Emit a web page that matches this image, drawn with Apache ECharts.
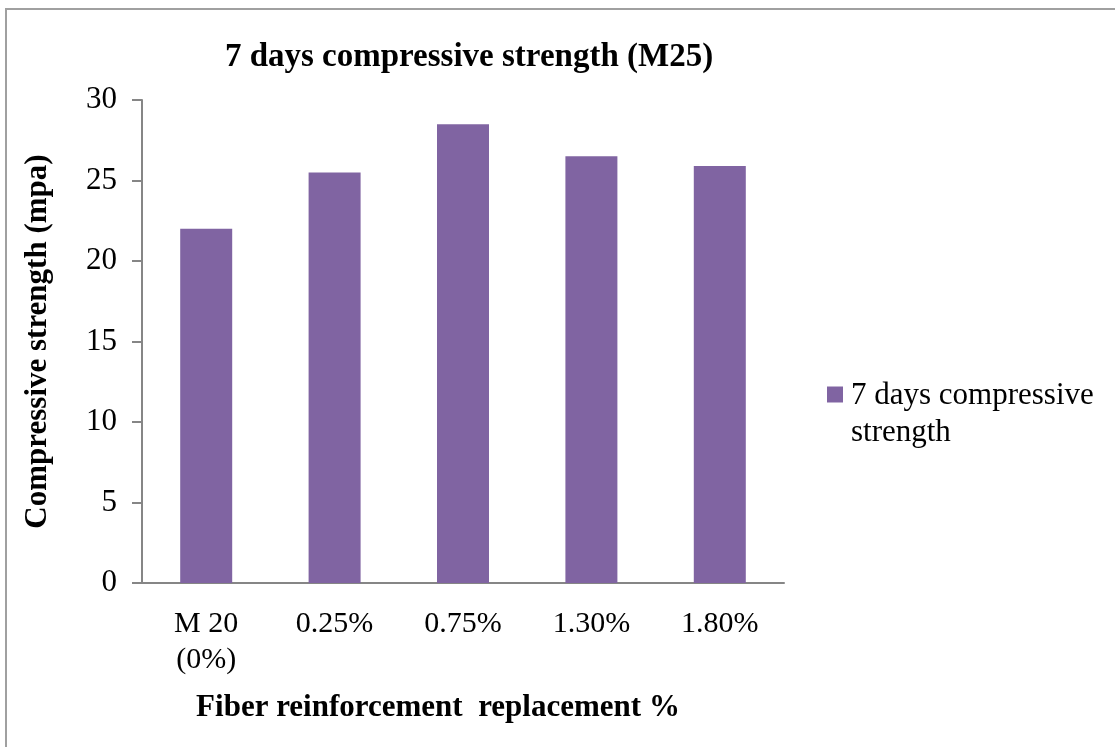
<!DOCTYPE html>
<html>
<head>
<meta charset="utf-8">
<script src="https://cdn.jsdelivr.net/npm/echarts@6/dist/echarts.min.js"></script>
<style>
  html, body { margin: 0; padding: 0; background: #fff; }
  #chart { width: 1115px; height: 747px; }
</style>
</head>
<body>
<div id="chart"></div>
<script>
const categories = ['M 20 (0%)', '0.25%', '0.75%', '1.30%', '1.80%'];
const strengthValues = [22, 25.5, 28.5, 26.5, 25.9];
const seriesName = '7 days compressive strength';

const fontFamily = '"Liberation Serif", "Times New Roman", serif';
const barColor = '#8064A2';
const axisColor = '#868686';

const chart = echarts.init(document.getElementById('chart'));

const option = {
    backgroundColor: '#fff',
    animation: false,
    title: {
        text: '7 days compressive strength (M25)',
        left: 464,
        top: 36,
        textAlign: 'center',
        textStyle: { fontFamily: fontFamily, fontSize: 33, fontWeight: 'bold', color: '#000' }
    },
    legend: {
        data: [seriesName],
        orient: 'vertical',
        left: 827,
        top: 342,
        padding: 0,
        itemWidth: 16,
        itemHeight: 16,
        icon: 'rect',
        // blank first line keeps the marker level with the first text line
        formatter: () => '{s| }\n{a|7 days compressive}\n{a|strength}',
        textStyle: {
            fontFamily: fontFamily,
            fontSize: 31,
            color: '#000',
            rich: {
                s: { fontSize: 31, lineHeight: 37, fontFamily: fontFamily },
                a: { fontSize: 31, lineHeight: 37, fontFamily: fontFamily, color: '#000', padding: [3, 0, 0, 3] }
            }
        }
    },
    grid: { left: 142, right: 331, top: 100, bottom: 164 },
    xAxis: {
        type: 'category',
        data: categories,
        name: 'Fiber reinforcement  replacement %',
        nameLocation: 'middle',
        nameGap: 109,
        nameTextStyle: {
            fontFamily: fontFamily, fontSize: 31, fontWeight: 'bold', color: '#000',
            padding: [0, 50, 0, 0]
        },
        axisLine: { lineStyle: { color: axisColor, width: 2 } },
        axisTick: { show: false },
        axisLabel: {
            fontFamily: fontFamily,
            fontSize: 30,
            color: '#000',
            lineHeight: 36,
            margin: 23,
            interval: 0,
            formatter: v => v.replace(' (', '\n(')
        }
    },
    yAxis: {
        type: 'value',
        min: 0,
        max: 30,
        interval: 5,
        name: 'Compressive strength (mpa)',
        nameLocation: 'middle',
        nameGap: 89,
        nameTextStyle: { fontFamily: fontFamily, fontSize: 31, fontWeight: 'bold', color: '#000' },
        axisLine: { show: true, lineStyle: { color: axisColor, width: 2 } },
        axisTick: { show: true, length: 10, lineStyle: { color: axisColor, width: 2 } },
        splitLine: { show: false },
        axisLabel: { fontFamily: fontFamily, fontSize: 31, color: '#000', margin: 25 }
    },
    series: [{
        name: seriesName,
        type: 'bar',
        data: strengthValues,
        barWidth: 52,
        itemStyle: { color: barColor }
    }],
    graphic: [{
        type: 'rect',
        shape: { x: 6, y: 9, width: 1130, height: 760 },
        style: { fill: null, stroke: '#a0a0a0', lineWidth: 2 },
        silent: true
    }]
};

chart.setOption(option);
</script>
</body>
</html>
